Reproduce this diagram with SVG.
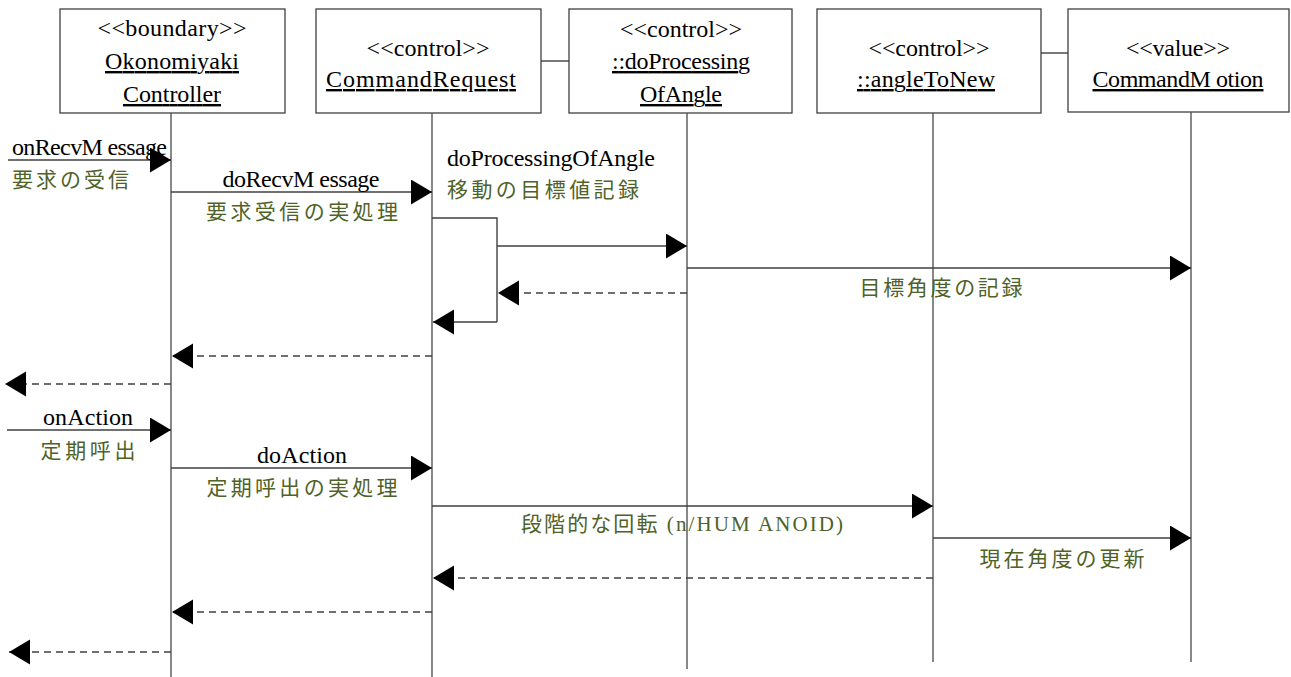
<svg xmlns="http://www.w3.org/2000/svg" width="1291" height="677" viewBox="0 0 1291 677">
<style>
.box{fill:#fff;stroke:#404040;stroke-width:1.3}
.life{stroke:#555;stroke-width:1.4;fill:none}
.msg{stroke:#404040;stroke-width:1.4;fill:none}
.ret{stroke:#404040;stroke-width:1.3;fill:none;stroke-dasharray:7,5}
.t{font-family:"Liberation Serif",serif;font-size:24px;fill:#000}
.c{text-anchor:middle}
.u{text-decoration:underline}
.jp{font-family:"Liberation Serif","Noto Sans CJK JP",serif;font-size:21px;fill:#4F6228}
</style>
<defs>
<marker id="ah" markerUnits="userSpaceOnUse" markerWidth="22" markerHeight="26" refX="21" refY="12.5" orient="auto">
<path d="M0,0 L21,12.5 L0,25 Z" fill="#000"/>
</marker>
</defs>
<rect width="1291" height="677" fill="#fff"/>

<g id="okonomiyaki">
<rect class="box" x="60" y="9" width="225" height="104"/>
<text class="t c" x="172" y="36" textLength="149">&lt;&lt;boundary&gt;&gt;</text>
<text class="t c u" x="172" y="69" textLength="134">Okonomiyaki</text>
<text class="t c u" x="172" y="102" textLength="98">Controller</text>
<line class="life" x1="171" y1="113" x2="171" y2="677"/>
</g>

<g id="commandrequest">
<rect class="box" x="316" y="9" width="225" height="104"/>
<text class="t c" x="428" y="56" textLength="123">&lt;&lt;control&gt;&gt;</text>
<text class="t c u" x="421" y="87" textLength="190">CommandRequest</text>
<line class="life" x1="432" y1="113" x2="432" y2="677"/>
</g>

<g id="doprocessingofangle">
<rect class="box" x="569" y="9" width="223" height="104"/>
<text class="t c" x="681" y="37" textLength="122">&lt;&lt;control&gt;&gt;</text>
<text class="t c u" x="681" y="69" textLength="138">::doProcessing</text>
<text class="t c u" x="681" y="102" textLength="82">OfAngle</text>
<line class="life" x1="687" y1="113" x2="687" y2="669"/>
</g>

<g id="angletonew">
<rect class="box" x="817" y="9" width="224" height="104"/>
<text class="t c" x="929" y="56" textLength="121">&lt;&lt;control&gt;&gt;</text>
<text class="t c u" x="926" y="87" textLength="138">::angleToNew</text>
<line class="life" x1="933" y1="113" x2="933" y2="662"/>
</g>

<g id="commandmotion">
<rect class="box" x="1068" y="9" width="221" height="103"/>
<text class="t c" x="1178" y="56" textLength="104">&lt;&lt;value&gt;&gt;</text>
<text class="t c u" x="1178" y="87" textLength="171">CommandM otion</text>
<line class="life" x1="1191" y1="112" x2="1191" y2="662"/>
</g>

<g id="connectors">
<line class="msg" x1="541" y1="61" x2="569" y2="61"/>
<line class="msg" x1="1041" y1="53" x2="1068" y2="53"/>

<line class="msg" x1="8" y1="160" x2="171" y2="160" marker-end="url(#ah)"/>
<line class="msg" x1="171" y1="192" x2="432" y2="192" marker-end="url(#ah)"/>
<polyline class="msg" points="432,218 497,218 497,322"/>
<line class="msg" x1="497" y1="322" x2="433" y2="322" marker-end="url(#ah)"/>
<line class="msg" x1="497" y1="246" x2="687" y2="246" marker-end="url(#ah)"/>
<line class="msg" x1="687" y1="268" x2="1191" y2="268" marker-end="url(#ah)"/>
<line class="ret" x1="687" y1="293" x2="498" y2="293" marker-end="url(#ah)"/>
<line class="ret" x1="432" y1="356" x2="172" y2="356" marker-end="url(#ah)"/>
<line class="ret" x1="171" y1="384" x2="5" y2="384" marker-end="url(#ah)"/>

<line class="msg" x1="7" y1="430" x2="171" y2="430" marker-end="url(#ah)"/>
<line class="msg" x1="171" y1="468" x2="432" y2="468" marker-end="url(#ah)"/>
<line class="msg" x1="432" y1="506" x2="933" y2="506" marker-end="url(#ah)"/>
<line class="msg" x1="933" y1="538" x2="1191" y2="538" marker-end="url(#ah)"/>
<line class="ret" x1="933" y1="578" x2="433" y2="578" marker-end="url(#ah)"/>
<line class="ret" x1="432" y1="612" x2="172" y2="612" marker-end="url(#ah)"/>
<line class="ret" x1="171" y1="652" x2="9" y2="652" marker-end="url(#ah)"/>

<g id="labels">
<text class="t" x="12" y="155" textLength="155">onRecvM essage</text>
<text class="jp" x="12" y="187" textLength="117">要求の受信</text>
<text class="t c" x="301" y="187" textLength="157">doRecvM essage</text>
<text class="jp c" x="302" y="219" textLength="192">要求受信の実処理</text>
<text class="t" x="447" y="166" textLength="208">doProcessingOfAngle</text>
<text class="jp" x="447" y="197" textLength="192">移動の目標値記録</text>
<text class="jp c" x="941" y="295" textLength="163">目標角度の記録</text>
<text class="t c" x="88" y="425" textLength="90">onAction</text>
<text class="jp c" x="88" y="458" textLength="95">定期呼出</text>
<text class="t c" x="302" y="463" textLength="90">doAction</text>
<text class="jp c" x="302" y="495" textLength="191">定期呼出の実処理</text>
<text class="jp c" x="682" y="531" textLength="322">段階的な回転 (n/HUM ANOID)</text>
<text class="jp c" x="1062" y="566" textLength="165">現在角度の更新</text>
</g>
</g>
</svg>
